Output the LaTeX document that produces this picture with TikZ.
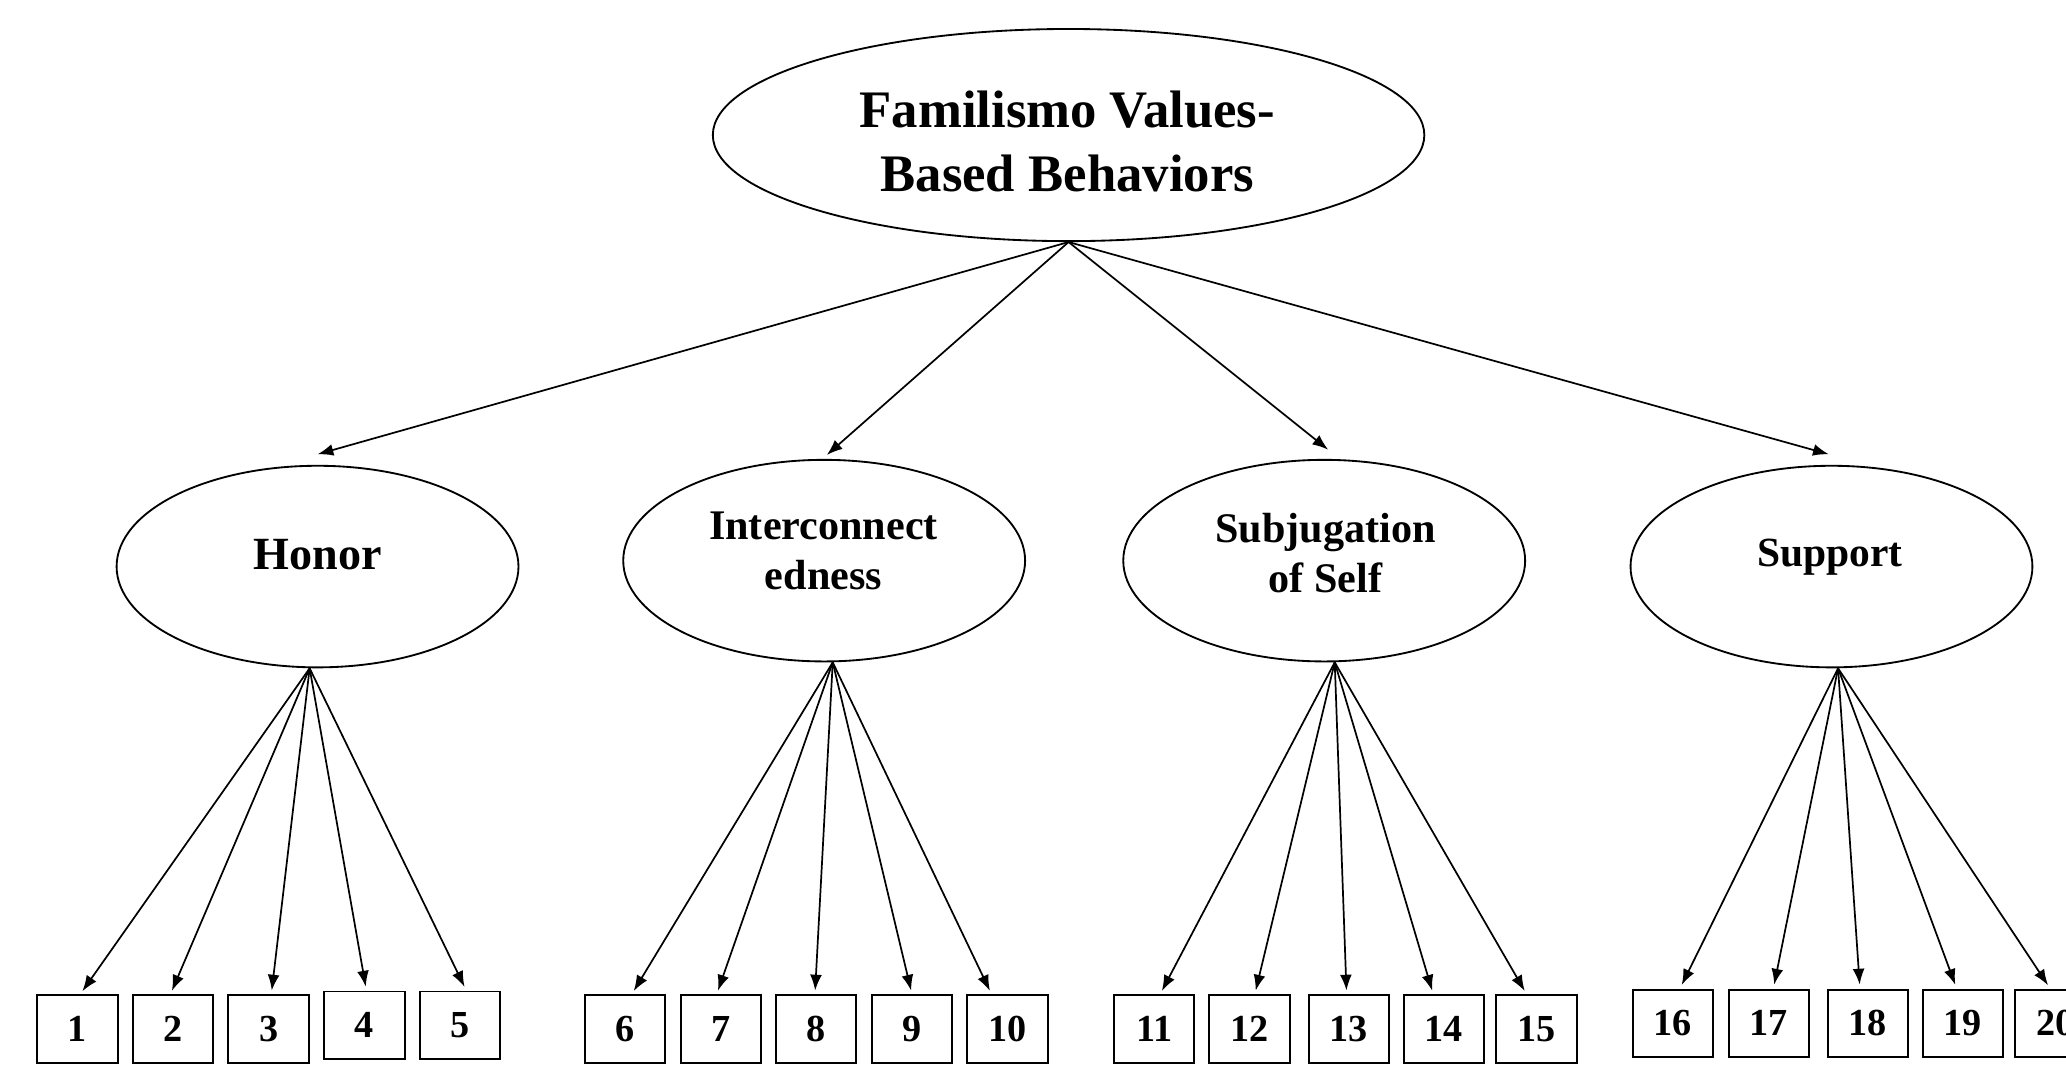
\documentclass[tikz,border=0pt]{standalone}
\usepackage{fontspec}
\setmainfont{Liberation Serif}
\usetikzlibrary{shapes.geometric,arrows.meta}
\begin{document}
\begin{tikzpicture}[x=1pt,y=-1pt,
  ell/.style={draw,ellipse,line width=1.4pt,inner sep=0pt,minimum width=305pt,minimum height=153pt},
  box/.style={draw,rectangle,line width=1.5pt,minimum width=61pt,minimum height=51pt,inner sep=0pt,font=\bfseries\fontsize{29}{29}\selectfont},
  arr/.style={line width=1.3pt,-{Latex[length=12pt,width=9pt]}},
  lab/.style={font=\bfseries\fontsize{32}{38}\selectfont,align=center,inner sep=0pt}]
\useasboundingbox (0,0) rectangle (1568,818);
\fill[white] (0,0) rectangle (1568,818);

% top ellipse
\node[draw,ellipse,line width=1.4pt,inner sep=0pt,minimum width=540pt,minimum height=161pt] (top) at (811,102.5) {};
\node[lab,font=\bfseries\fontsize{40}{49}\selectfont] (toplab) at (810,107.5) {Familismo Values-\\Based Behaviors};

% second level
\node[ell] (honor) at (241,430) {};
\node[lab,font=\bfseries\fontsize{35}{38}\selectfont,anchor=base] (honorlab) at (241,432.5) {Honor};
\node[ell] (inter) at (625.5,425.5) {};
\node[lab] (interlab) at (625,418) {Interconnect\\edness};
\node[ell] (subj) at (1005,425.5) {};
\node[lab] (subjlab) at (1006,419.5) {Subjugation\\of Self};
\node[ell] (supp) at (1390,430) {};
\node[lab,font=\bfseries\fontsize{31.5}{38}\selectfont,anchor=base] (supplab) at (1389,430) {Support};

% top arrows
\draw[arr] (top.south) -- ([yshift=8pt]honor.north);
\draw[arr] (top.south) -- ([xshift=2pt,yshift=3pt]inter.north);
\draw[arr] (top.south) -- ([xshift=3pt,yshift=7pt]subj.north);
\draw[arr] (top.south) -- ([xshift=-2pt,yshift=8pt]supp.north);

% sources of lower arrows
\coordinate (hs) at ([xshift=-6pt]honor.south);
\coordinate (is) at ([xshift=6.5pt]inter.south);
\coordinate (ss) at ([xshift=8pt]subj.south);
\coordinate (ps) at ([xshift=5pt]supp.south);

% boxes: name/x/y/tip offset/source
\foreach \n/\x/\y/\dx/\src in {
  1/58.8/781/2/hs, 2/131.3/781/-2/hs, 3/203.9/781/2/hs, 4/276.6/778/1.5/hs, 5/348.9/778/5/hs,
  6/474.4/781/5/is, 7/547.3/781/-3.4/is, 8/619.5/781/-1/is, 9/692.2/781/0/is, 10/764.6/781/-12/is,
  11/876/781/4.4/ss, 12/948.3/781/4/ss, 13/1023.6/781/-1.6/ss, 14/1095.8/781/-8/ss, 15/1166/781/-7.3/ss,
  16/1269.6/776.5/5.4/ps, 17/1342.5/776.5/3.4/ps, 18/1417.6/776.5/-6/ps, 19/1489.7/776.5/-4.7/ps, 20/1560/776.5/-4/ps}
{
  \node[box] (b\n) at (\x,\y) {\n};
  \draw[arr,shorten >=3pt] (\src) -- ([xshift=\dx pt]b\n.north);
}
\end{tikzpicture}
\end{document}
